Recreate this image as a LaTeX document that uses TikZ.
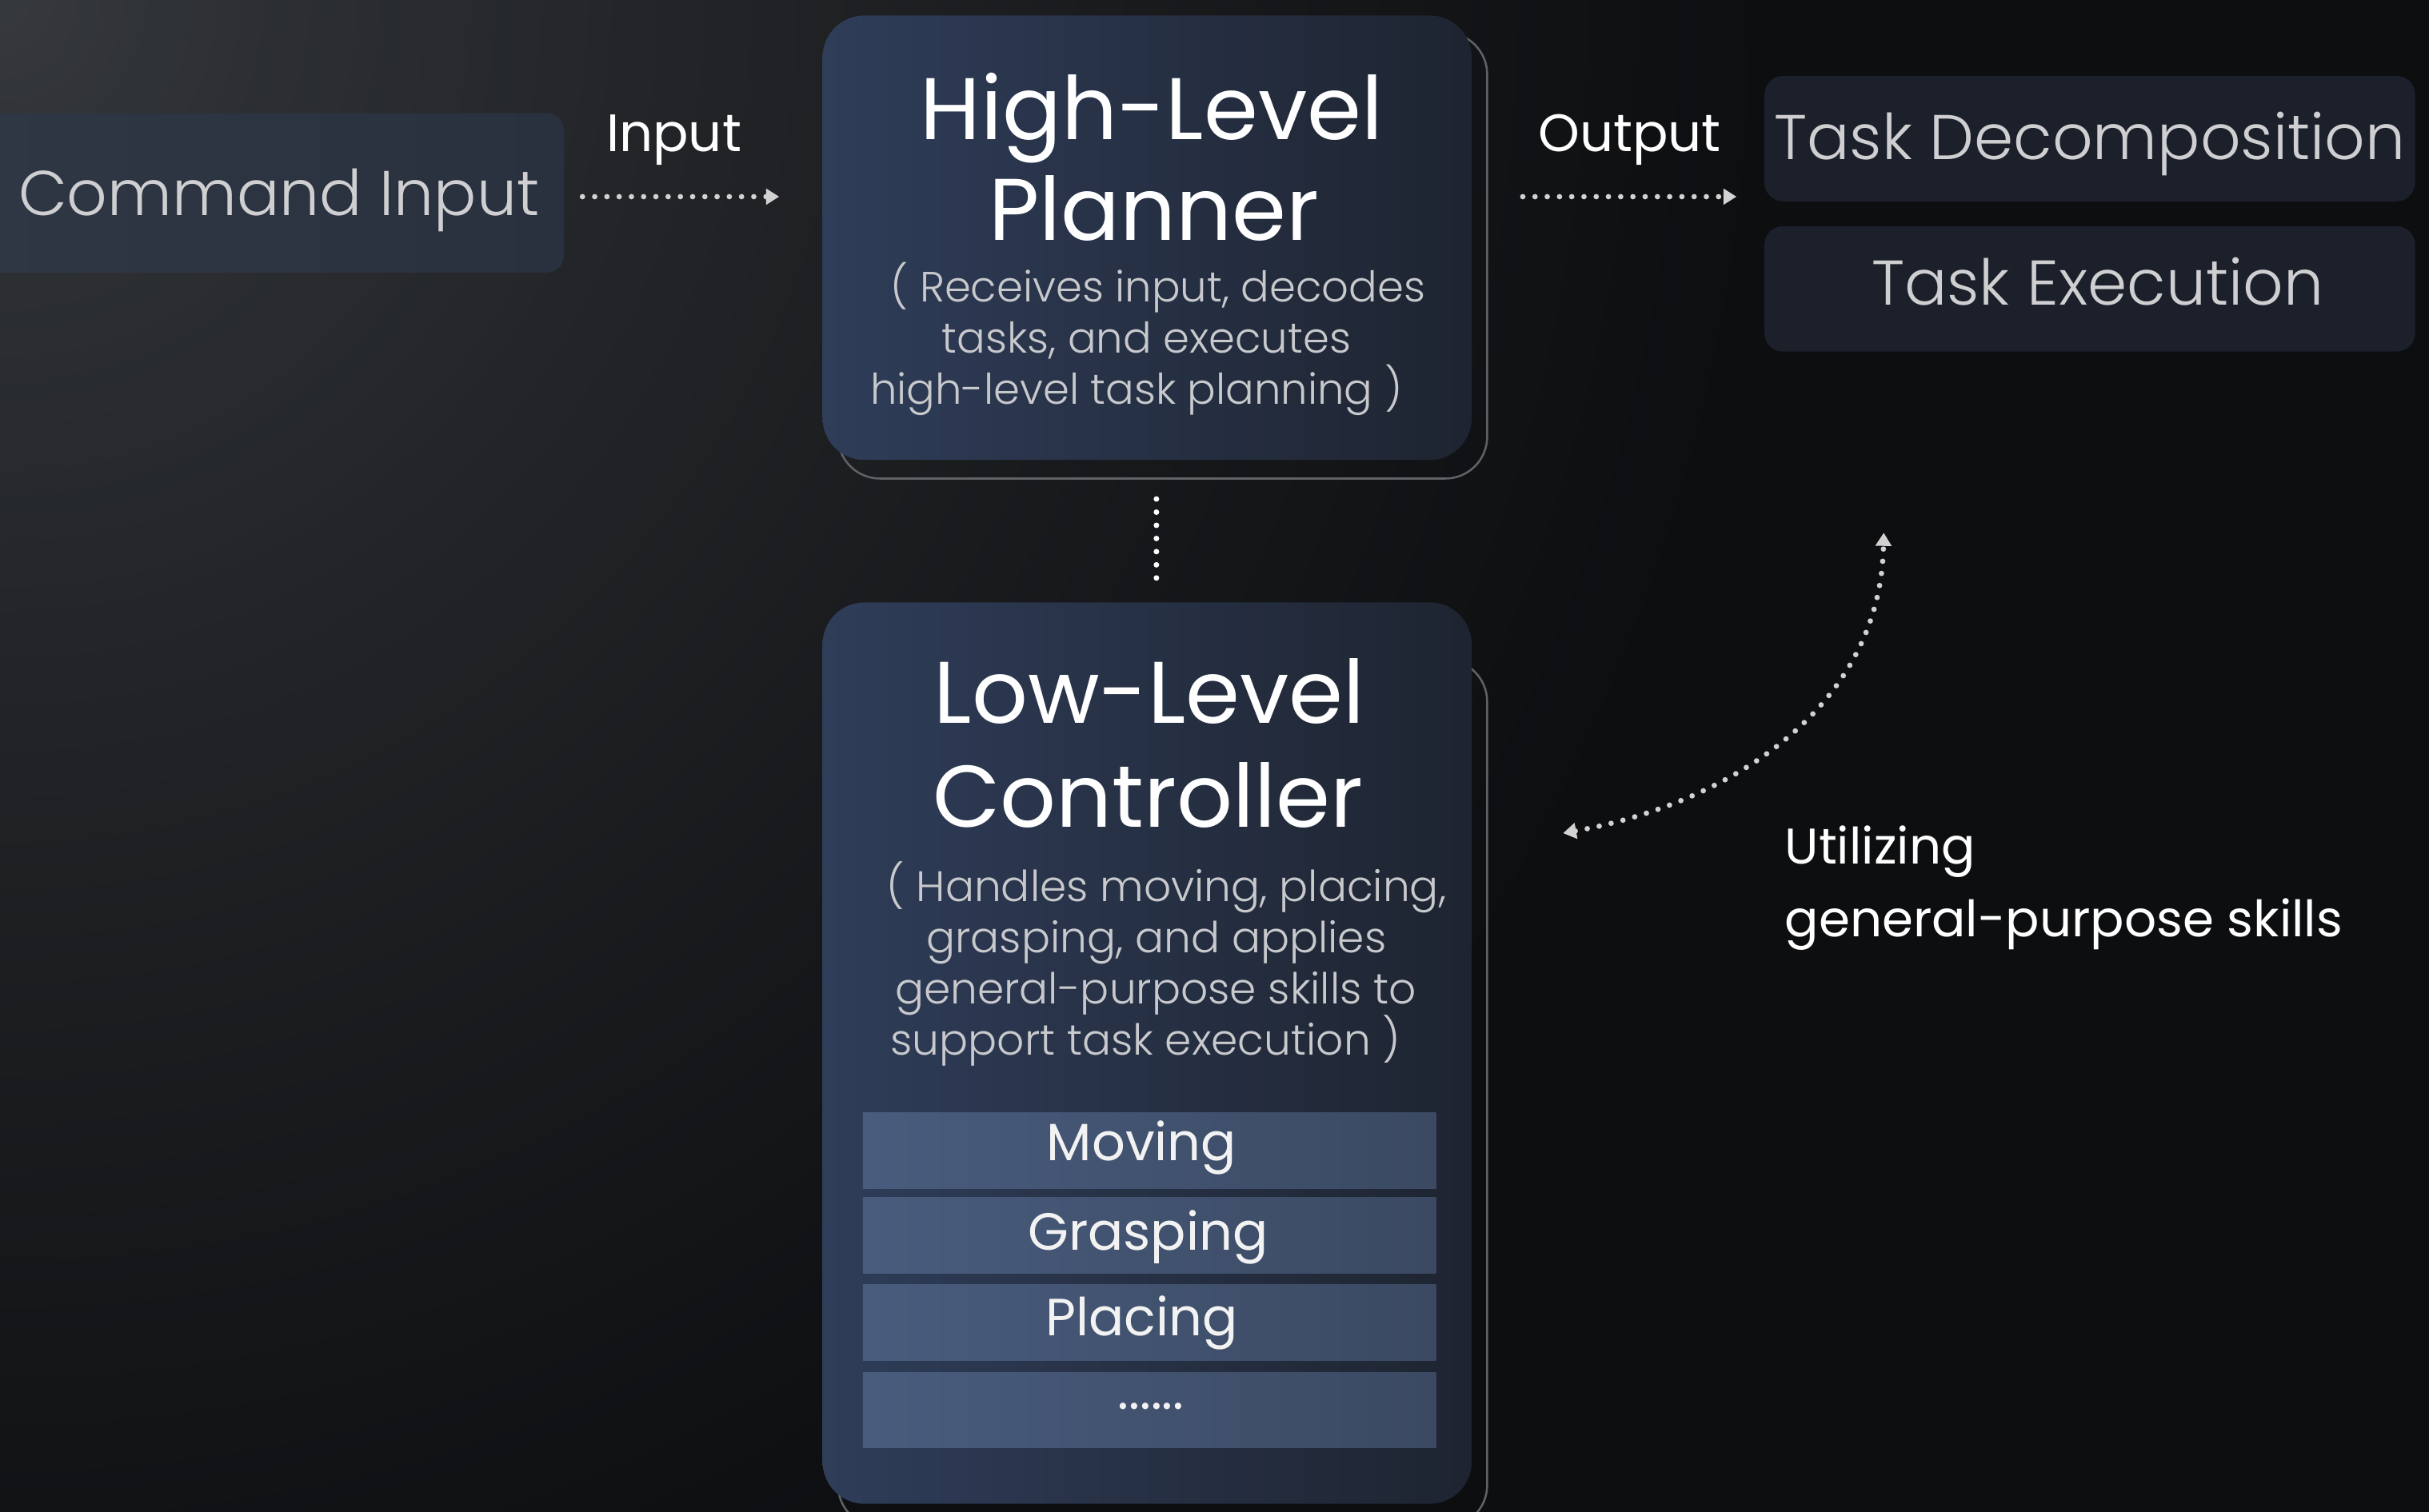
\documentclass[tikz,border=0pt]{standalone}
\usepackage{fontspec}
\setmainfont{Poppins}
\newfontfamily\lightfont{Poppins Light}
\usetikzlibrary{arrows.meta}
\definecolor{bgA}{HTML}{383B3F}
\definecolor{bgC}{HTML}{0D0E10}
\definecolor{ciL}{HTML}{2F3744}
\definecolor{ciR}{HTML}{29313E}
\definecolor{boxL}{HTML}{2F3D59}
\definecolor{boxR}{HTML}{1E2430}
\definecolor{taskfill}{HTML}{1B202B}
\definecolor{skL}{HTML}{485C7D}
\definecolor{skR}{HTML}{3B4962}
\definecolor{lighttext}{HTML}{CFCFD1}
\definecolor{desctext}{HTML}{C8C9CC}
\definecolor{outl}{HTML}{606266}
\definecolor{dotcol}{HTML}{D2D2D2}
\tikzset{
  bigbox/.style={rounded corners=27pt, left color=boxL, right color=boxR, draw=none, inner sep=0pt},
  shadowbox/.style={rounded corners=27pt, draw=outl, line width=1.3pt, inner sep=0pt},
  cibox/.style={rounded corners=11pt, left color=ciL, right color=ciR, draw=none, inner sep=0pt},
  taskbox/.style={rounded corners=12pt, fill=taskfill, draw=none, inner sep=0pt},
  skillbar/.style={left color=skL, right color=skR, draw=none, inner sep=0pt, minimum width=370pt, minimum height=49pt},
  titletxt/.style={text=white, font=\fontsize{56.5}{62}\selectfont, anchor=base, inner sep=0pt},
  desctxt/.style={text=desctext, font=\lightfont\fontsize{27.3}{32}\selectfont, anchor=base, inner sep=0pt},
  lldesctxt/.style={text=desctext, font=\lightfont\fontsize{27.6}{32}\selectfont, anchor=base, inner sep=0pt},
  bigtxt/.style={text=lighttext, font=\lightfont\fontsize{40.8}{46}\selectfont, anchor=base, inner sep=0pt},
  labtxt/.style={text=white, font=\fontsize{34}{40}\selectfont, anchor=base, inner sep=0pt},
  skilltxt/.style={text=white!95!black, font=\fontsize{33.8}{38}\selectfont, inner sep=0pt},
  utxt/.style={text=white, font=\fontsize{32.4}{36}\selectfont, anchor=base west, inner sep=0pt},
  dotline/.style={draw=dotcol, line width=3.5pt, line cap=round, dash pattern=on 0pt off 7.9pt},
  tipA/.style={-{Triangle[length=8.5pt,width=10pt]}},
  tipB/.style={{Triangle[length=8.5pt,width=10pt]}-{Triangle[length=8.5pt,width=10pt]}},
}
\begin{document}
\begin{tikzpicture}[x=1pt,y=-1pt]
\useasboundingbox (0,0) rectangle (1568,976);
% background
\begin{scope}
\clip (-10,-10) rectangle (1578,990);
\fill[bgC] (-10,-10) rectangle (1578,990);
\foreach \r in {1250,1235,...,10}{
  \pgfmathsetmacro\p{min(100,100*(\r/1150)^0.72)}
  \fill[bgC!\p!bgA] (0,0) circle (\r);
}
\end{scope}

% command input
\node[cibox, minimum width=378pt, minimum height=103pt] (ci) at (175,124.5) {};
\node[bigtxt] (citxt) at (180,139) {Command Input};

% input label and arrow
\node[labtxt] (inlab) at (435,98) {Input};
\coordinate (inA) at (376,127);
\coordinate (inB) at (503,127);
\draw[dotline, tipA] (inA) -- (inB);

% high-level planner
\node[shadowbox, minimum width=419pt, minimum height=288pt] (hls) at (750.5,165) {};
\node[bigbox, minimum width=419pt, minimum height=287pt] (hl) at (740.5,153.5) {};
\node[titletxt] (hlt1) at (743.5,90) {High-Level};
\node[titletxt] (hlt2) at (745,155) {Planner};
\node[desctxt] (hld1) at (747.5,195) {( Receives input, decodes};
\node[desctxt] (hld2) at (740,228) {tasks, and executes};
\node[desctxt] (hld3) at (733.5,261) {high-level task planning )};

% output label and arrow
\node[labtxt] (outlab) at (1052,98) {Output};
\coordinate (outA) at (983,127);
\coordinate (outB) at (1121,127);
\draw[dotline, tipA] (outA) -- (outB);

% task boxes
\node[taskbox, minimum width=420pt, minimum height=81pt] (td) at (1349,89.5) {};
\node[bigtxt] (tdtxt) at (1349,103) {Task Decomposition};
\node[taskbox, minimum width=420pt, minimum height=81pt] (te) at (1349,186.5) {};
\node[bigtxt] (tetxt) at (1354,197) {Task Execution};

% low-level controller
\node[shadowbox, minimum width=419pt, minimum height=560pt] (lls) at (750.5,706) {};
\node[bigbox, minimum width=419pt, minimum height=582pt] (ll) at (740.5,680) {};
\node[titletxt] (llt1) at (742,467) {Low-Level};
\node[titletxt] (llt2) at (741,534) {Controller};
\node[lldesctxt] (lld1) at (753,582) {( Handles moving, placing,};
\node[lldesctxt] (lld2) at (746.5,615) {grasping, and applies};
\node[lldesctxt] (lld3) at (746,648) {general-purpose skills to};
\node[lldesctxt] (lld4) at (739.5,681) {support task execution )};

% skills
\node[skillbar] (sk1) at (742,743) {};
\node[skilltxt] (sk1t) at (737,741) {Moving};
\node[skillbar] (sk2) at (742,797.5) {};
\node[skilltxt] (sk2t) at (741,799) {Grasping};
\node[skillbar] (sk3) at (742,854) {};
\node[skilltxt] (sk3t) at (737,854) {Placing};
\node[skillbar] (sk4) at (742,910.5) {};
\node[skilltxt] (sk4t) at (743,908) {......};

% vertical dotted connector
\draw[draw=white, line width=3.6pt, line cap=round, dash pattern=on 0pt off 8.5pt] ([yshift=-25pt]hl.south -| 746.5,0) -- ([yshift=14pt]ll.north -| 746.5,0);

% curved arrow
\coordinate (uTop) at (1216,344);
\coordinate (uLeft) at (1009,538);
\draw[dotline, tipB] (uLeft) .. controls (1120,518) and (1214,455) .. (uTop);

% utilizing label
\node[utxt] (u1) at (1152,558) {Utilizing};
\node[utxt] (u2) at (1152,605) {general-purpose skills};
\end{tikzpicture}
\end{document}
